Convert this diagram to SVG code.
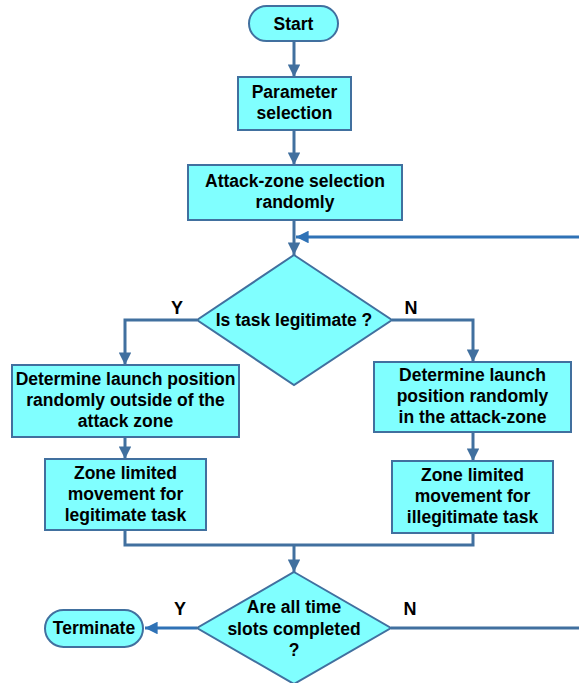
<svg xmlns="http://www.w3.org/2000/svg" width="579" height="683" viewBox="0 0 579 683">
  <defs>
    <style>
      .node { fill: #80FFFF; stroke: #41709F; stroke-width: 2; }
      .label { font-family: "Liberation Sans", Arial, sans-serif; font-weight: bold; font-size: 17.5px; fill: #000; text-anchor: middle; }
      .yn { font-family: "Liberation Sans", Arial, sans-serif; font-weight: bold; font-size: 18px; fill: #000; text-anchor: middle; }
      .conn { fill: none; stroke: #41709F; stroke-width: 3; }
      .conn2 { fill: none; stroke: #2F72B6; stroke-width: 3; }
    </style>
    <marker id="arrow" viewBox="0 0 10 10" refX="10" refY="5" markerWidth="4.2" markerHeight="4.2" orient="auto" markerUnits="strokeWidth">
      <path d="M0,0 L10,5 L0,10 z" fill="#41709F"/>
    </marker>
    <marker id="arrow2" viewBox="0 0 10 10" refX="10" refY="5" markerWidth="4.2" markerHeight="4.2" orient="auto" markerUnits="strokeWidth">
      <path d="M0,0 L10,5 L0,10 z" fill="#2F72B6"/>
    </marker>
  </defs>

  <!-- connectors -->
  <g id="connectors">
    <path class="conn" d="M294,42 V77" marker-end="url(#arrow)"/>
    <path class="conn" d="M294,130 V165" marker-end="url(#arrow)"/>
    <path class="conn" d="M294,220 V255" marker-end="url(#arrow)"/>
    <path class="conn2" d="M579,237 H296" marker-end="url(#arrow2)"/>
    <path class="conn" d="M197,320 H125 V365" marker-end="url(#arrow)"/>
    <path class="conn" d="M392,320 H473 V362" marker-end="url(#arrow)"/>
    <path class="conn" d="M125,437 V459" marker-end="url(#arrow)"/>
    <path class="conn" d="M473,432 V461" marker-end="url(#arrow)"/>
    <path class="conn" d="M125,530 V545 H473 V533"/>
    <path class="conn" d="M294,545 V572" marker-end="url(#arrow)"/>
    <path class="conn2" d="M197,628 H145" marker-end="url(#arrow2)"/>
    <path class="conn" d="M391,628 H579"/>
    <text class="yn" x="177" y="314">Y</text>
    <text class="yn" x="411" y="314">N</text>
    <text class="yn" x="180" y="615">Y</text>
    <text class="yn" x="410" y="615">N</text>
  </g>

  <g id="start">
    <rect class="node" x="249" y="6" width="89" height="35" rx="17.5"/>
    <text class="label" x="293.5" y="29.5">Start</text>
  </g>

  <g id="parameter">
    <rect class="node" x="238" y="77" width="113" height="53"/>
    <text class="label" x="294.5" y="98">Parameter</text>
    <text class="label" x="294.5" y="119">selection</text>
  </g>

  <g id="attack-zone">
    <rect class="node" x="188" y="165" width="214" height="55"/>
    <text class="label" x="295" y="187">Attack-zone selection</text>
    <text class="label" x="295" y="208">randomly</text>
  </g>

  <g id="decision-legit">
    <polygon class="node" points="294,255 392,320 294,385 197,320"/>
    <text class="label" x="294" y="326">Is task legitimate ?</text>
  </g>

  <g id="launch-outside">
    <rect class="node" x="12" y="365" width="227" height="72"/>
    <text class="label" x="125.5" y="385">Determine launch position</text>
    <text class="label" x="125.5" y="406">randomly outside of the</text>
    <text class="label" x="125.5" y="427">attack zone</text>
  </g>

  <g id="launch-inside">
    <rect class="node" x="374" y="362" width="197" height="70"/>
    <text class="label" x="472.5" y="381">Determine launch</text>
    <text class="label" x="472.5" y="402">position randomly</text>
    <text class="label" x="472.5" y="423">in the attack-zone</text>
  </g>

  <g id="move-legit">
    <rect class="node" x="45" y="459" width="161" height="71"/>
    <text class="label" x="125.5" y="479">Zone limited</text>
    <text class="label" x="125.5" y="500">movement for</text>
    <text class="label" x="125.5" y="521">legitimate task</text>
  </g>

  <g id="move-illegit">
    <rect class="node" x="392" y="461" width="161" height="72"/>
    <text class="label" x="472.5" y="481">Zone limited</text>
    <text class="label" x="472.5" y="502">movement for</text>
    <text class="label" x="472.5" y="523">illegitimate task</text>
  </g>

  <g id="decision-slots">
    <polygon class="node" points="294,572 391,628 294,684 197,628"/>
    <text class="label" x="294" y="613">Are all time</text>
    <text class="label" x="294" y="635">slots completed</text>
    <text class="label" x="294" y="656">?</text>
  </g>

  <g id="terminate">
    <rect class="node" x="45" y="610" width="98" height="37" rx="18.5"/>
    <text class="label" x="94" y="634">Terminate</text>
  </g>
</svg>
